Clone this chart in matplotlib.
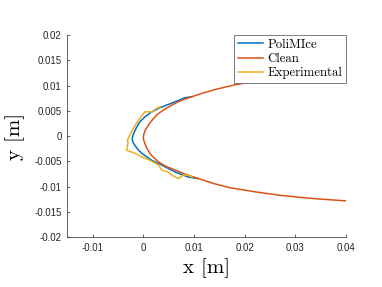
import matplotlib
matplotlib.use("Agg")
import matplotlib.pyplot as plt

# Clean airfoil contour (upper trailing side -> nose -> lower side)
clean_x = [0.040, 0.035, 0.030, 0.025, 0.0183, 0.0145, 0.0120, 0.0096, 0.0078, 0.0063, 0.0045,
           0.0030, 0.0020, 0.0010, 0.0004, 0.0001, 0.0000, 0.0001, 0.0004, 0.0007, 0.0015,
           0.0030, 0.0045, 0.0063, 0.0085, 0.0109, 0.0140, 0.0171, 0.0220, 0.0270, 0.0330, 0.0400]
clean_y = [0.0130, 0.0125, 0.0120, 0.0113, 0.0102, 0.0093, 0.0086, 0.0078, 0.0072, 0.0065, 0.0055,
           0.0045, 0.0035, 0.0022, 0.0012, 0.0004, -0.0002, -0.0009, -0.0017, -0.0024, -0.0037,
           -0.0051, -0.0060, -0.0067, -0.0076, -0.0084, -0.0094, -0.0102, -0.0110, -0.0117, -0.0123, -0.0128]

# PoliMIce ice shape
poli_x = [0.0096, 0.0082, 0.0063, 0.0045, 0.0030, 0.0015, 0.0003, -0.0007, -0.0013, -0.0018,
          -0.0021, -0.0022, -0.0020, -0.0016, -0.0010, -0.0003, 0.0007, 0.0017, 0.0036, 0.0063,
          0.0089, 0.0109]
poli_y = [0.0078, 0.0076, 0.0068, 0.0061, 0.0055, 0.0047, 0.0038, 0.0028, 0.0018, 0.0008,
          0.0000, -0.0007, -0.0013, -0.0019, -0.0027, -0.0034, -0.0041, -0.0048, -0.0057, -0.0071,
          -0.0081, -0.0084]

# Experimental ice shape
exp_x = [0.0033, 0.0026, 0.0017, 0.0003, -0.0007, -0.0014, -0.0020, -0.0026, -0.0030, -0.0032,
         -0.0030, -0.0033, -0.0016, -0.0003, 0.0013, 0.0030, 0.0036, 0.0049, 0.0056, 0.0069,
         0.0079, 0.0089, 0.0096]
exp_y = [0.0058, 0.0055, 0.0048, 0.0048, 0.0035, 0.0025, 0.0015, 0.0004, -0.0005, -0.0008,
         -0.0011, -0.0028, -0.0034, -0.0041, -0.0048, -0.0057, -0.0067, -0.0071, -0.0077, -0.0084,
         -0.0077, -0.0077, -0.0081]

xticks = [-0.01, 0, 0.01, 0.02, 0.03, 0.04]
xticklabels = ["-0.01", "0", "0.01", "0.02", "0.03", "0.04"]
yticks = [-0.02, -0.015, -0.01, -0.005, 0, 0.005, 0.01, 0.015, 0.02]
yticklabels = ["-0.02", "-0.015", "-0.01", "-0.005", "0", "0.005", "0.01", "0.015", "0.02"]

blue = (0, 0.447, 0.741)
orange = (0.850, 0.325, 0.098)
yellow = (0.929, 0.694, 0.125)

fig = plt.figure(figsize=(3.82, 2.87), dpi=100)
ax = fig.add_axes([67.3 / 382, 1 - 237.3 / 287, (346 - 67.3) / 382, (237.3 - 35) / 287])

ax.plot(poli_x, poli_y, color=blue, lw=1.1, label="PoliMIce")
ax.plot(clean_x, clean_y, color=orange, lw=1.1, label="Clean")
ax.plot(exp_x, exp_y, color=yellow, lw=1.1, label="Experimental")

ax.set_xlim(-0.015, 0.04)
ax.set_ylim(-0.02, 0.02)
ax.set_xticks(xticks)
ax.set_xticklabels(xticklabels, fontfamily="Liberation Sans", fontsize=7)
ax.set_yticks(yticks)
ax.set_yticklabels(yticklabels, fontfamily="Liberation Sans", fontsize=7)
ax.tick_params(direction="in", length=2.5, width=0.5, colors="0.15", pad=4)
for s in ["top", "right"]:
    ax.spines[s].set_visible(False)
for s in ["left", "bottom"]:
    ax.spines[s].set_linewidth(0.5)
    ax.spines[s].set_color("0.15")

ax.set_xlabel("x [m]", fontfamily="cmr10", fontsize=15, labelpad=4)
ax.set_ylabel("y [m]", fontfamily="cmr10", fontsize=15, labelpad=7)

leg = fig.legend(loc="upper right", bbox_to_anchor=(346 / 382, 1 - 35 / 287),
                 bbox_transform=fig.transFigure, borderaxespad=0,
                 prop={"family": "cmr10", "size": 9.2}, frameon=True, fancybox=False,
                 framealpha=1, handlelength=2.0, handletextpad=0.3, borderpad=0.3,
                 labelspacing=0.15)
leg.get_frame().set_edgecolor("0.4")
leg.get_frame().set_linewidth(0.6)

fig.savefig("out.png", dpi=100)
